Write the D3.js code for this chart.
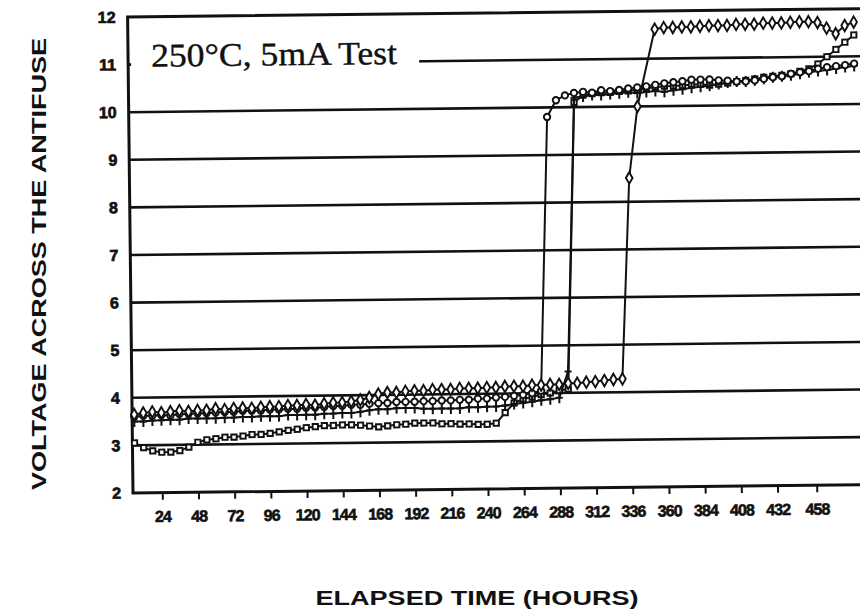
<!DOCTYPE html>
<html>

<head>
  <meta charset="utf-8">
  <script src="https://d3js.org/d3.v7.min.js"></script>
  <style>
    body { margin: 0; background: #fff; }
    text { font-family: "Liberation Sans", Arial, sans-serif; fill: #111; }
  </style>
</head>

<body>
  <div id="my_dataviz"></div>
  <script>
    // sample times (hours)
    var hours = [6, 12, 18, 24, 30, 36, 42, 48, 54, 60, 66, 72, 78, 84, 90, 96, 102, 108, 114, 120,
      126, 132, 138, 144, 150, 156, 162, 168, 174, 180, 186, 192, 198, 204, 210, 216, 222, 228, 234, 240,
      246, 252, 258, 264, 270, 276, 282, 288, 294, 300, 306, 312, 318, 324, 330, 336, 342, 348, 354, 360,
      366, 372, 378, 384, 390, 396, 402, 408, 414, 420, 426, 432, 438, 444, 450, 456, 462, 468, 474, 480, 486];

    // diamonds - last one to fail, goes to ~11.7
    var seriesA = [3.65, 3.68, 3.7, 3.68, 3.7, 3.72, 3.7, 3.72,
      3.72, 3.75, 3.73, 3.75, 3.76, 3.75, 3.77, 3.78,
      3.78, 3.8, 3.8, 3.82, 3.8, 3.83, 3.85, 3.85,
      3.87, 3.9, 3.95, 4.02, 4.05, 4.05, 4.07, 4.08,
      4.08, 4.1, 4.1, 4.1, 4.12, 4.12, 4.12, 4.13,
      4.13, 4.15, 4.15, 4.15, 4.17, 4.17, 4.18, 4.18,
      4.2, 4.2, 4.22, 4.23, 4.25, 4.27, 4.28,
      8.5, 10.0, null, 11.62,
      11.65, 11.65, 11.66, 11.66, 11.67, 11.68, 11.68, 11.68, 11.7, 11.7, 11.7,
      11.72, 11.72, 11.72, 11.73, 11.74, 11.74, 11.72, 11.6, 11.48, 11.65, 11.72];

    // circles
    var seriesB = [3.6, 3.62, 3.62, 3.63, 3.62, 3.65, 3.65, 3.66,
      3.66, 3.67, 3.68, 3.68, 3.7, 3.7, 3.7, 3.72,
      3.72, 3.73, 3.73, 3.75, 3.75, 3.76, 3.78, 3.78,
      3.8, 3.8, 3.82, 3.83, 3.83, 3.85, 3.85, 3.85,
      3.86, 3.86, 3.87, 3.87, 3.88, 3.88, 3.9, 3.9,
      3.92, 3.93, 3.95, 3.97, 4.0, 4.05,
      9.8, 10.15,
      10.25, 10.3, 10.32, 10.3, 10.35, 10.33, 10.35, 10.38, 10.4, 10.42, 10.45,
      10.48, 10.5, 10.52, 10.55, 10.55, 10.55, 10.53, 10.52, 10.5, 10.5, 10.52,
      10.55, 10.58, 10.6, 10.65, 10.68, 10.7, 10.75, 10.78, 10.8, 10.82, 10.85];

    // plus signs
    var seriesC = [3.5, 3.5, 3.52, 3.52, 3.53, 3.53, 3.55, 3.55,
      3.55, 3.55, 3.56, 3.56, 3.57, 3.57, 3.58, 3.58,
      3.58, 3.6, 3.6, 3.6, 3.6, 3.62, 3.62, 3.63,
      3.63, 3.65, 3.68, 3.7, 3.7, 3.72, 3.72, 3.72,
      3.7, 3.7, 3.7, 3.7, 3.7, 3.72, 3.72, 3.73,
      3.73, 3.75, 3.78, 3.8, 3.82, 3.85, 3.87, 3.9,
      4.45, 10.2,
      10.22, 10.25, 10.25, 10.27, 10.28, 10.3, 10.28, 10.3, 10.32, 10.3,
      10.33, 10.35, 10.38, 10.4, 10.42, 10.45, 10.48, 10.5, 10.5, 10.52,
      10.55, 10.58, 10.6, 10.62, 10.65, 10.68, 10.7, 10.72, 10.75, 10.78, 10.8];

    // squares
    var seriesD = [3.05, 2.95, 2.88, 2.85, 2.85, 2.88, 2.95, 3.05,
      3.1, 3.12, 3.15, 3.15, 3.17, 3.2, 3.2, 3.22,
      3.25, 3.28, 3.3, 3.33, 3.35, 3.37, 3.37, 3.38,
      3.38, 3.37, 3.35, 3.33, 3.35, 3.37, 3.38, 3.4,
      3.4, 3.4, 3.38, 3.38, 3.37, 3.37, 3.36, 3.36,
      3.38, 3.6, 3.8, 3.88, 3.92, 3.97, 4.0, 4.05,
      4.08, 10.1,
      10.25, 10.28, 10.3, 10.3, 10.32, 10.33, 10.35, 10.38, 10.4, 10.42,
      10.42, 10.43, 10.45, 10.45, 10.43, 10.45, 10.47, 10.5, 10.52, 10.55,
      10.58, 10.6, 10.62, 10.65, 10.7, 10.75, 10.85, 11.0, 11.15, 11.3, 11.45];

    var yTicks = [2, 3, 4, 5, 6, 7, 8, 9, 10, 11, 12];
    var gridValues = [3, 4, 5, 6, 7, 8, 9, 10, 11];
    var xTicks = [24, 48, 72, 96, 120, 144, 168, 192, 216, 240, 264, 288, 312, 336, 360, 384, 408, 432, 458];

    var width = 860, height = 613;
    var plotLeft = 133, plotTop = 17, plotBottom = 493, plotRight = 880;

    var svg = d3.select("#my_dataviz")
      .append("svg")
      .attr("width", width)
      .attr("height", height);

    svg.append("rect").attr("width", width).attr("height", height).attr("fill", "#fff");

    // the scanned page is slightly tilted
    var g = svg.append("g")
      .attr("transform", "rotate(-0.65," + plotLeft + "," + plotBottom + ")");

    var x = d3.scaleLinear().domain([4.6, 490]).range([plotLeft, plotLeft + 485.4 * 1.508]);
    var y = d3.scaleLinear().domain([2, 12]).range([plotBottom, plotTop]);

    // grid lines
    g.selectAll("grid")
      .data(gridValues)
      .enter()
      .append("line")
      .attr("x1", plotLeft)
      .attr("x2", plotRight)
      .attr("y1", function (d) { return y(d); })
      .attr("y2", function (d) { return y(d); })
      .attr("stroke", "#111")
      .attr("stroke-width", 2.6);

    // frame: top, bottom, left
    g.append("path")
      .attr("d", "M" + plotRight + "," + y(12) + "H" + plotLeft + "V" + y(2) + "H" + plotRight)
      .attr("fill", "none")
      .attr("stroke", "#111")
      .attr("stroke-width", 3);

    // Y axis labels
    var yAxis = g.append("g")
      .attr("transform", "translate(" + plotLeft + ",0)")
      .call(d3.axisLeft(y).tickValues(yTicks).tickSize(0).tickPadding(12));
    yAxis.select(".domain").remove();
    yAxis.selectAll("text")
      .attr("font-size", 16)
      .attr("font-weight", "bold")
      .attr("fill", "#111")
      .attr("stroke", "#111")
      .attr("stroke-width", 0.7)
      .attr("font-family", "'Liberation Sans', Arial, sans-serif");

    // X axis
    var xAxis = g.append("g")
      .attr("transform", "translate(0," + plotBottom + ")")
      .call(d3.axisBottom(x).tickValues(xTicks).tickSize(7).tickPadding(11).tickFormat(function (d) { return d; }));
    xAxis.select(".domain").remove();
    xAxis.selectAll("line").attr("stroke", "#111").attr("stroke-width", 2);
    xAxis.selectAll("text")
      .attr("font-size", 16)
      .attr("font-weight", "bold")
      .attr("letter-spacing", "-0.9")
      .attr("fill", "#111")
      .attr("stroke", "#111")
      .attr("stroke-width", 0.6)
      .attr("font-family", "'Liberation Sans', Arial, sans-serif");

    // legend label, sitting on the 11 V grid line
    var legendBg = g.append("rect").attr("fill", "#fff");
    var legend = g.append("text")
      .attr("x", 156)
      .attr("y", 67)
      .attr("textLength", 246)
      .attr("lengthAdjust", "spacingAndGlyphs")
      .attr("stroke", "#111")
      .attr("stroke-width", 0.4)
      .style("font-family", "'Liberation Serif', 'Times New Roman', serif")
      .style("font-size", "33px")
      .text("250°C, 5mA Test");
    var bb = legend.node().getBBox();
    legendBg.attr("x", plotLeft + 3).attr("y", bb.y)
      .attr("width", bb.x + bb.width + 22 - plotLeft - 3).attr("height", bb.height);

    // series
    var line = d3.line()
      .x(function (d) { return x(d.h); })
      .y(function (d) { return y(d.v); });

    function points(vals) {
      return hours.map(function (h, i) { return { h: h, v: vals[i] }; })
        .filter(function (d) { return d.v !== null; });
    }

    var series = [
      { name: "D", values: seriesD, symbol: d3.symbolSquare, size: 28 },
      { name: "C", values: seriesC, symbol: null, size: 0 },
      { name: "B", values: seriesB, symbol: d3.symbolCircle, size: 32 },
      { name: "A", values: seriesA, symbol: d3.symbolDiamond, size: 38 }
    ];

    series.forEach(function (s) {
      var pts = points(s.values);
      g.append("path")
        .datum(pts)
        .attr("d", line)
        .attr("fill", "none")
        .attr("stroke", "#111")
        .attr("stroke-width", 2);

      var marks = g.selectAll("mark" + s.name)
        .data(pts)
        .enter()
        .append("path")
        .attr("transform", function (d) { return "translate(" + x(d.h) + "," + y(d.v) + ")"; })
        .attr("stroke", "#111")
        .attr("stroke-width", 1.9);

      if (s.symbol) {
        marks.attr("d", d3.symbol().type(s.symbol).size(s.size)).attr("fill", "#fff");
      } else {
        marks.attr("d", "M-3.5,0H3.5M0,-5.5V5.5").attr("fill", "none").attr("stroke-width", 2);
      }
    });

    // axis titles
    svg.append("text")
      .attr("transform", "translate(46,264) rotate(-90)")
      .attr("text-anchor", "middle")
      .attr("textLength", 452)
      .attr("lengthAdjust", "spacingAndGlyphs")
      .style("font-size", "21px")
      .style("font-weight", "bold")
      .text("VOLTAGE ACROSS THE ANTIFUSE");

    svg.append("text")
      .attr("x", 477)
      .attr("y", 605)
      .attr("text-anchor", "middle")
      .attr("textLength", 323)
      .attr("lengthAdjust", "spacingAndGlyphs")
      .style("font-size", "21px")
      .style("font-weight", "bold")
      .text("ELAPSED TIME (HOURS)");
  </script>
</body>

</html>
